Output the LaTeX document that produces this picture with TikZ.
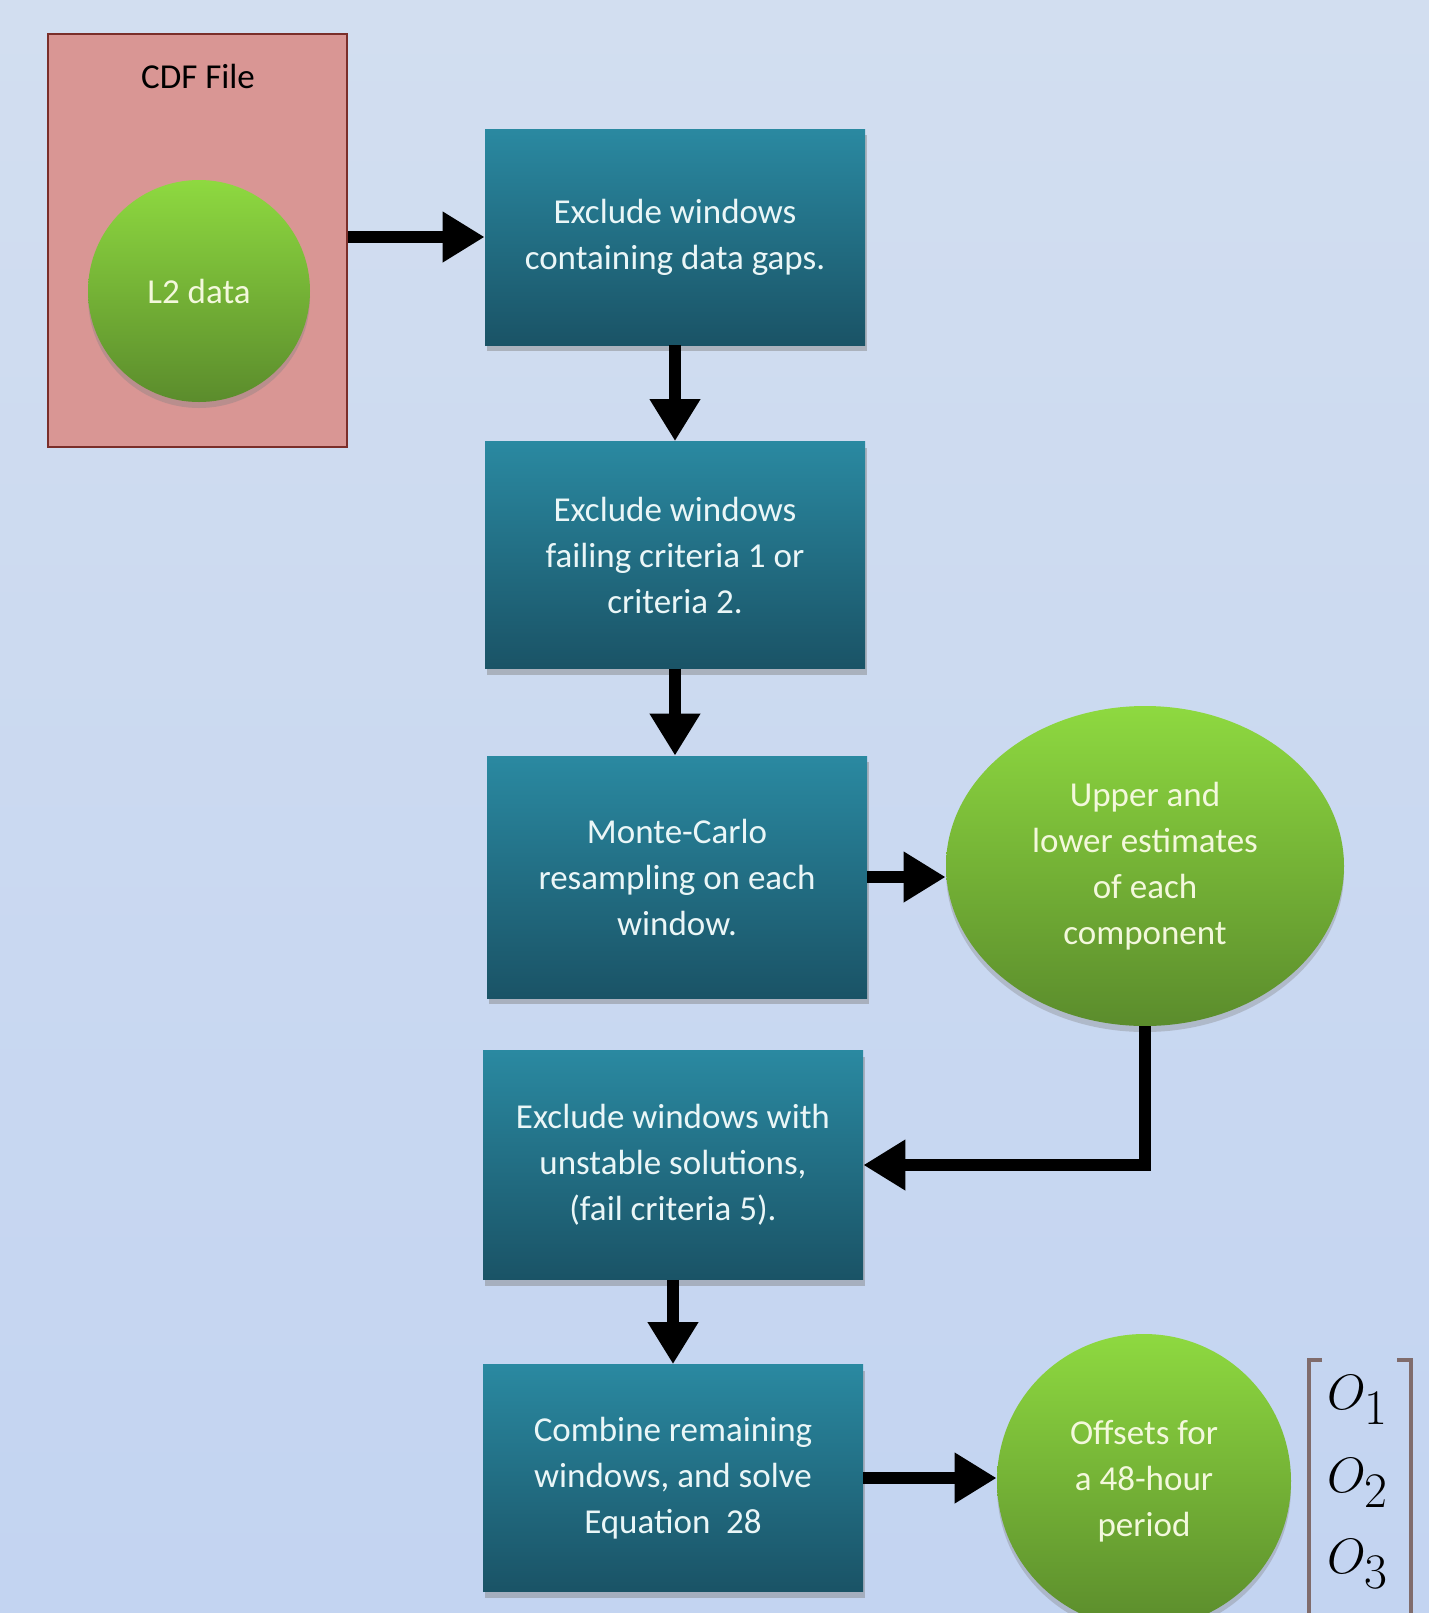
\documentclass[tikz,border=0pt]{standalone}
\usepackage{fontspec}
\setmainfont{Carlito}
\usetikzlibrary{arrows.meta,positioning,shapes.geometric,shadows}
\definecolor{bgtop}{HTML}{D2DEF0}
\definecolor{bgbottom}{HTML}{C3D4F1}
\definecolor{tealtop}{HTML}{2A89A1}
\definecolor{tealbottom}{HTML}{1A5366}
\definecolor{greentop}{HTML}{8ED940}
\definecolor{greenbottom}{HTML}{5B8C2C}
\definecolor{filepink}{HTML}{D99694}
\definecolor{fileedge}{HTML}{7A2E2A}
\definecolor{boxtext}{HTML}{EAF6F7}
\definecolor{blobtext}{HTML}{F3F8DC}
\definecolor{bracketgray}{HTML}{806C6C}
\tikzset{
  stepbox/.style={rectangle, top color=tealtop, bottom color=tealbottom, text=boxtext, align=center, minimum width=190pt, inner sep=0pt, drop shadow={shadow xshift=1pt, shadow yshift=-3pt, opacity=0.45}},
  resultblob/.style={top color=greentop, bottom color=greenbottom, text=blobtext, align=center, inner sep=0pt, drop shadow={shadow xshift=0pt, shadow yshift=-3pt, opacity=0.35}},
  filebox/.style={rectangle, fill=filepink, draw=fileedge, line width=1.2pt, minimum width=149.5pt, minimum height=206.5pt},
  flowarrow/.style={black, line width=6pt, -{Triangle[length=21pt,width=24pt]}},
  bracketline/.style={bracketgray, line width=2pt}
}
\begin{document}
\begin{tikzpicture}[x=0.5pt, y=-0.5pt, font=\fontsize{17.5}{23}\selectfont]
  \useasboundingbox (0,0) rectangle (1429,1613);
  \clip (0,0) rectangle (1429,1613);
  \shade[top color=bgtop, bottom color=bgbottom] (0,0) rectangle (1429,1613);
  % input file
  \node[filebox] (cdf) at (197.5,240.5) {};
  \node (cdflabel) at (198,76) {CDF File};
  \node[resultblob, circle, minimum size=111pt] (l2) at (199,291) {L2 data};
  % processing steps
  \node[stepbox, minimum height=108pt, text depth=3pt] (gaps) at (675,237) {Exclude windows\\containing data gaps.};
  \node[stepbox, minimum height=113.5pt] (criteria) at (675,555) {Exclude windows\\failing criteria 1 or\\criteria 2.};
  \node[stepbox, minimum height=121pt] (montecarlo) at (677,877) {Monte-Carlo\\resampling on each\\window.};
  \node[resultblob, ellipse, minimum width=199pt, minimum height=160pt] (bounds) at (1145,866) {Upper and\\lower estimates\\of each\\component};
  \node[stepbox, minimum height=114.5pt] (unstable) at (673,1165) {Exclude windows with\\unstable solutions,\\(fail criteria 5).};
  \node[stepbox, minimum height=113.5pt] (combine) at (673,1478) {Combine remaining\\windows, and solve\\Equation\ \ 28};
  \node[resultblob, circle, minimum size=147pt] (offsets) at (1144,1481) {Offsets for\\a 48-hour\\period};
  % offset vector
  \foreach \i/\y in {1/1400,2/1483,3/1564}
    \node[font=\fontsize{46}{48}\selectfont] (o\i) at (1358,\y) {$O_{\i}$};
  \draw[bracketline] (1322,1360) -- (1309,1360) -- (1309,1630);
  \draw[bracketline] (1397,1360) -- (1411,1360) -- (1411,1630);
  % connectors
  \draw[flowarrow] (cdf.east |- gaps.west) -- (gaps.west);
  \draw[flowarrow] (gaps.south) -- (criteria.north);
  \draw[flowarrow] (criteria.south) -- (criteria.south |- montecarlo.north);
  \draw[flowarrow] (montecarlo.east) -- (montecarlo.east -| bounds.west);
  \draw[flowarrow] (bounds.south) |- (unstable.east);
  \draw[flowarrow] (unstable.south) -- (unstable.south |- combine.north);
  \draw[flowarrow] (combine.east) -- (combine.east -| offsets.west);
\end{tikzpicture}
\end{document}
